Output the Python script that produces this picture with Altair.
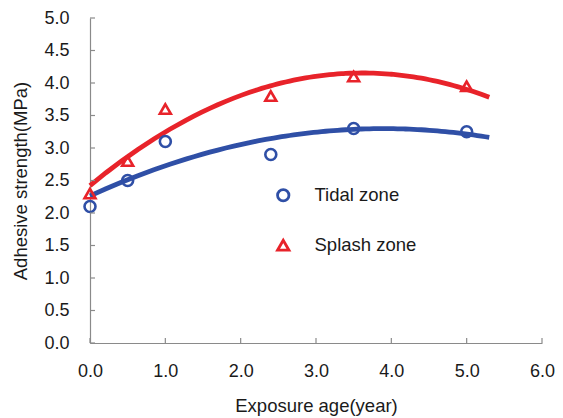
import altair as alt
import pandas as pd

ages = [0.0, 0.5, 1.0, 2.4, 3.5, 5.0]
tidal = [2.1, 2.5, 3.1, 2.9, 3.3, 3.25]
splash = [2.3, 2.8, 3.6, 3.8, 4.1, 3.95]
zones = ["Tidal zone", "Splash zone"]
colors = ["#2f4fa6", "#e8232a"]
shapes = ["circle", "triangle-up"]
x_ticks = [0, 1, 2, 3, 4, 5, 6]
y_ticks = [0, 0.5, 1, 1.5, 2, 2.5, 3, 3.5, 4, 4.5, 5]

rows = []
for a, t, s in zip(ages, tidal, splash):
    rows.append({"age": a, "strength": t, "zone": zones[0]})
    rows.append({"age": a, "strength": s, "zone": zones[1]})
df = pd.DataFrame(rows)

FONT = "Liberation Sans"
AXC = "#8a8a8a"
W, H = 452, 325

xscale = alt.Scale(domain=[0, 6], nice=False)
yscale = alt.Scale(domain=[0, 5], nice=False)

xaxis = alt.Axis(values=x_ticks, format=".1f", title="Exposure age(year)",
                 grid=False, ticks=False, labelFlush=False, labelOverlap=False,
                 labelPadding=19, titlePadding=16)
yaxis = alt.Axis(values=y_ticks, format=".1f", title="Adhesive strength(MPa)",
                 grid=False, ticks=False, labelFlush=False, labelOverlap=False,
                 labelPadding=21, titlePadding=13)

xenc = alt.X("age:Q", scale=xscale, axis=xaxis)
yenc = alt.Y("strength:Q", scale=yscale, axis=yaxis)

color = alt.Color("zone:N", scale=alt.Scale(domain=zones, range=colors),
                  legend=alt.Legend(title=None, orient="none", legendX=184, legendY=168,
                                    rowPadding=27, labelFontSize=18.5, labelFont=FONT,
                                    labelColor="#1a1a1a", symbolSize=130,
                                    symbolStrokeWidth=2.8, labelOffset=22,
                                    symbolFillColor="transparent"))
shape = alt.Shape("zone:N", scale=alt.Scale(domain=zones, range=shapes))

lines = alt.Chart(df).transform_regression(
    "age", "strength", method="poly", order=2, groupby=["zone"], extent=[0, 5.3]
).mark_line(strokeWidth=4.8).encode(
    x=xenc, y=yenc, color=color, detail="zone:N",
)

points = alt.Chart(df).mark_point(filled=False, size=120, strokeWidth=2.6, opacity=1).encode(
    x=xenc, y=yenc, color=color, shape=shape
)

xt = pd.DataFrame({"t": x_ticks})
yt = pd.DataFrame({"t": y_ticks})
xticks = alt.Chart(xt).mark_rule(color=AXC, strokeWidth=1.2).encode(
    x=alt.X("t:Q", scale=xscale, axis=xaxis), y=alt.value(H), y2=alt.value(H - 5)
)
yticks = alt.Chart(yt).mark_rule(color=AXC, strokeWidth=1.2).encode(
    y=alt.Y("t:Q", scale=yscale, axis=yaxis), x=alt.value(0), x2=alt.value(5)
)

chart = alt.layer(lines, points, xticks, yticks).properties(
    width=W, height=H,
    autosize=alt.AutoSizeParams(type="none"),
    padding={"left": 90, "top": 18, "right": 21, "bottom": 75},
    background="white",
).configure_view(stroke=None).configure_axis(
    domainColor=AXC, domainWidth=1.2,
    labelFont=FONT, titleFont=FONT, labelFontSize=18, titleFontSize=18.5,
    labelColor="#1a1a1a", titleColor="#1a1a1a", titleFontWeight="normal",
)

chart.save("out.html", embed_options={"renderer": "svg", "actions": False})
